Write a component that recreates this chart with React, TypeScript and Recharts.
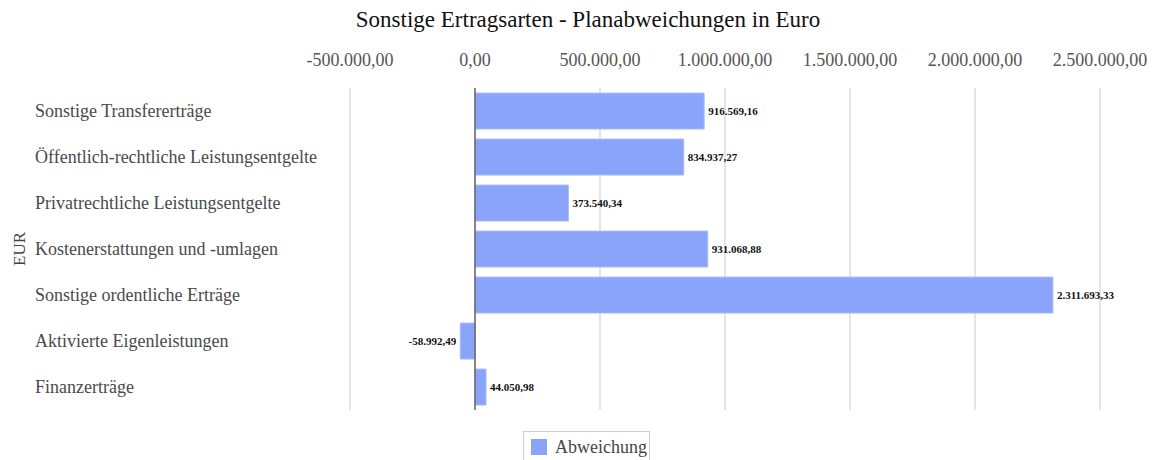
import { Bar, BarChart, CartesianGrid, LabelList, ReferenceLine, XAxis, YAxis } from "recharts"

const categories = [
  "Sonstige Transfererträge",
  "Öffentlich-rechtliche Leistungsentgelte",
  "Privatrechtliche Leistungsentgelte",
  "Kostenerstattungen und -umlagen",
  "Sonstige ordentliche Erträge",
  "Aktivierte Eigenleistungen",
  "Finanzerträge",
]

const abweichung = [916569.16, 834937.27, 373540.34, 931068.88, 2311693.33, -58992.49, 44050.98]

const xTicks = [-500000, 0, 500000, 1000000, 1500000, 2000000, 2500000]

const data = categories.map((name, i) => ({ name, value: abweichung[i] }))

const serif = '"Liberation Serif", "Times New Roman", serif'
const barColor = "#89a4f8"

function fmt(v: number) {
  const neg = v < 0
  const [int, dec] = Math.abs(v).toFixed(2).split(".")
  const grouped = int.replace(/\B(?=(\d{3})+(?!\d))/g, ".")
  return (neg ? "-" : "") + grouped + "," + dec
}

function CategoryTick({ y, payload }: any) {
  return (
    <text x={35} y={y} dy={6} fontSize={18} style={{ fontFamily: serif }} fill="#4a4a4a" textAnchor="start">
      {payload.value}
    </text>
  )
}

function ValueLabel({ x, y, width, height, value }: any) {
  const neg = value < 0
  const tx = neg ? x + width - 4 : x + width + 4
  return (
    <text
      x={tx}
      y={y + height / 2}
      dy={4}
      fontSize={11}
      style={{ fontFamily: serif }}
      fontWeight={600}
      fill="#111"
      textAnchor={neg ? "end" : "start"}
    >
      {fmt(value)}
    </text>
  )
}

export default function App() {
  return (
    <div style={{ position: "absolute", left: 0, top: 0, width: 1157, height: 460, background: "#fff" }}>
      <div
        style={{
          position: "absolute",
          top: 7,
          left: 352,
          width: 472,
          textAlign: "center",
          fontFamily: serif,
          fontSize: 23,
          color: "#111",
          whiteSpace: "nowrap",
        }}
      >
        Sonstige Ertragsarten - Planabweichungen in Euro
      </div>
      <BarChart
        width={1157}
        height={460}
        data={data}
        layout="vertical"
        margin={{ top: 58, right: 57, bottom: 50, left: 0 }}
        barCategoryGap="11%"
      >
        <CartesianGrid horizontal={false} stroke="#dcdcdc" strokeWidth={1.5} />
        <XAxis
          type="number"
          orientation="top"
          domain={[-500000, 2500000]}
          ticks={xTicks}
          tickFormatter={fmt}
          axisLine={false}
          tickLine={false}
          height={30}
          tick={{ fontSize: 18, fontFamily: serif, fill: "#555" }}
          tickMargin={16}
        />
        <YAxis
          type="category"
          dataKey="name"
          width={350}
          axisLine={false}
          tickLine={false}
          tick={<CategoryTick />}
          label={{
            content: (props: any) => {
              const vb = props.viewBox
              const cx = 20
              const cy = vb.y + vb.height / 2
              return (
                <text
                  x={cx}
                  y={cy}
                  transform={`rotate(-90 ${cx} ${cy})`}
                  textAnchor="middle"
                  dy={5}
                  fontSize={17}
                  style={{ fontFamily: serif }}
                  fill="#444"
                >
                  EUR
                </text>
              )
            },
          }}
        />
        <ReferenceLine x={0} stroke="#666" strokeWidth={1.5} />
        <Bar dataKey="value" name="Abweichung" fill={barColor} stroke="#a9bcfb" isAnimationActive={false}>
          <LabelList dataKey="value" content={<ValueLabel />} />
        </Bar>
      </BarChart>
      <div
        style={{
          position: "absolute",
          left: 523,
          top: 431,
          width: 127,
          height: 32,
          boxSizing: "border-box",
          display: "flex",
          alignItems: "center",
          border: "1px solid #d0d0d0",
          paddingLeft: 7,
          fontFamily: serif,
          fontSize: 18,
          color: "#444",
        }}
      >
        <span style={{ width: 16, height: 16, background: barColor, display: "inline-block", marginRight: 8 }} />
        Abweichung
      </div>
    </div>
  )
}
